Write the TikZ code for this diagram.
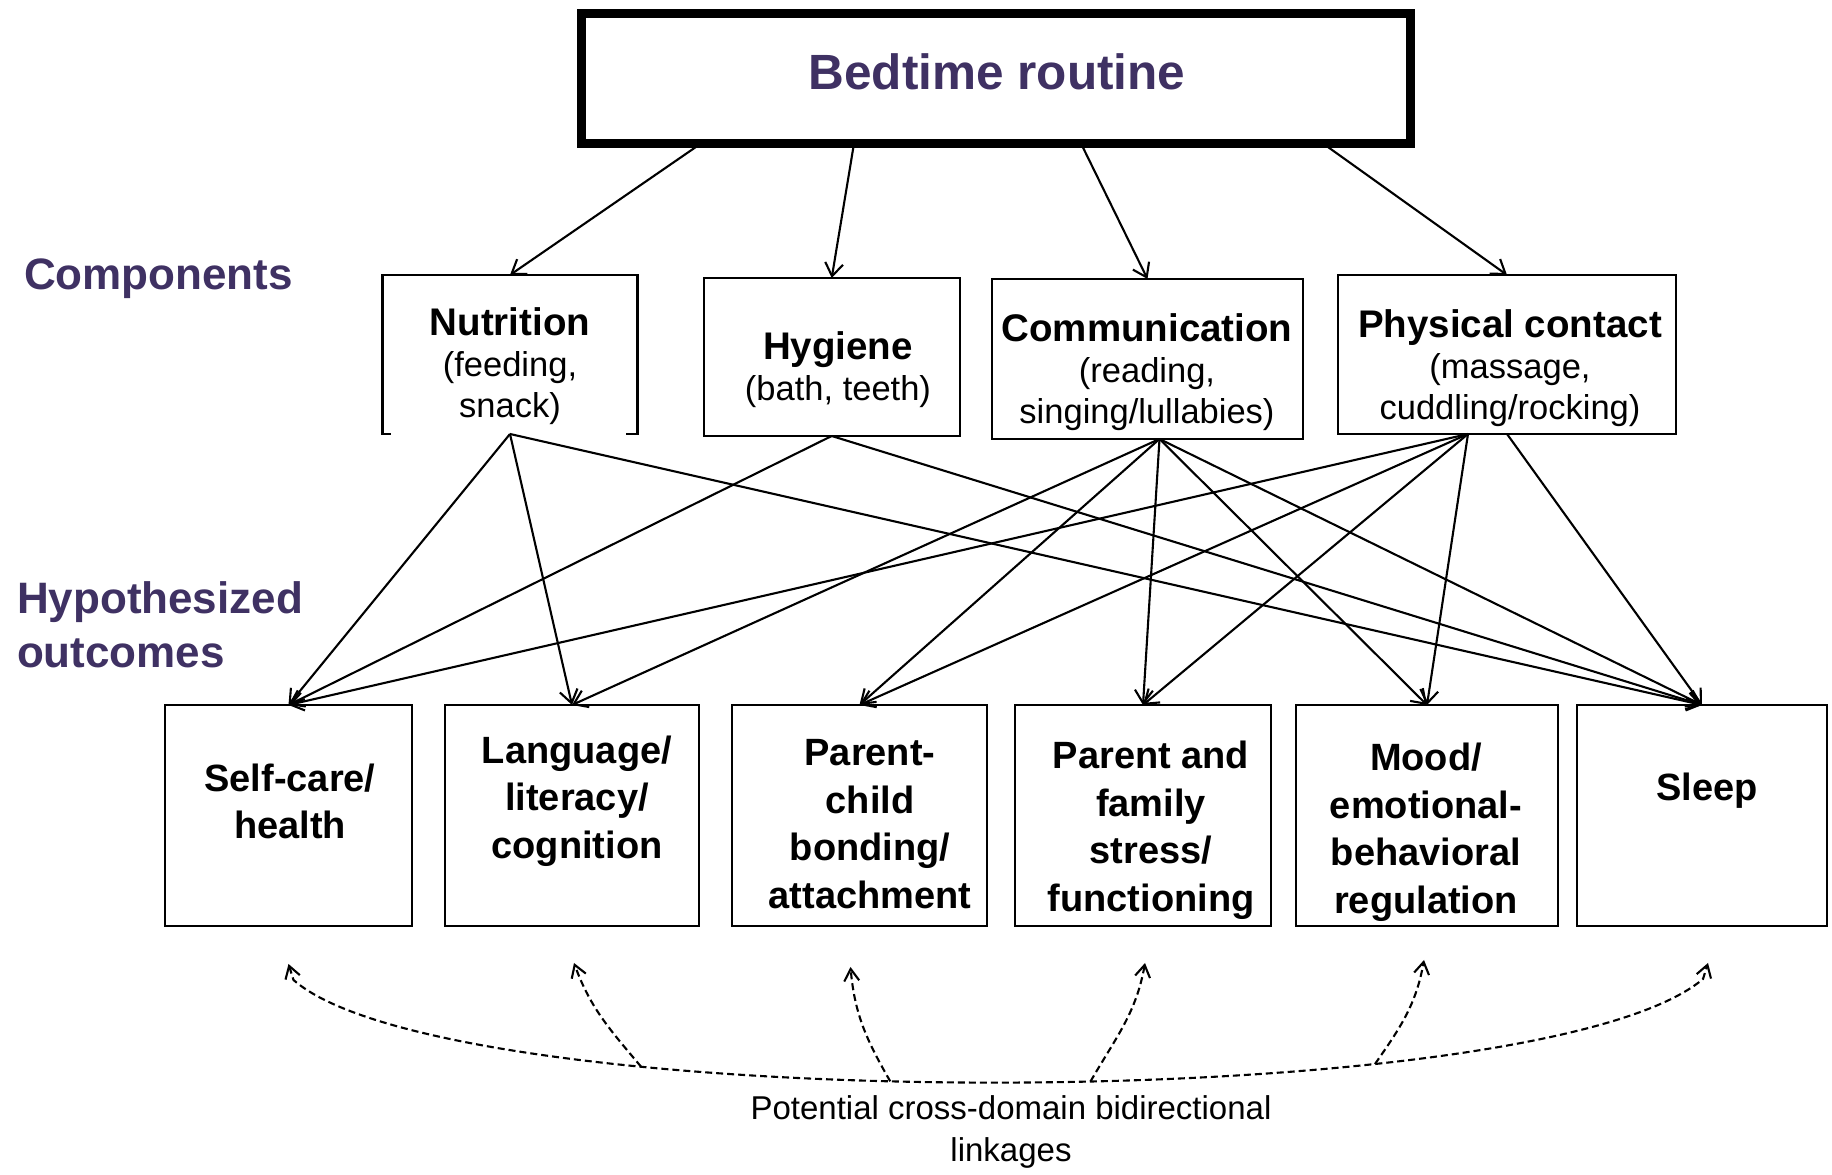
\documentclass[tikz,border=0pt]{standalone}
\usepackage{fontspec}
\setmainfont{Liberation Sans}
\usetikzlibrary{arrows.meta}
\definecolor{hdr}{RGB}{63,49,99}
\newcommand{\comptitle}{\fontsize{38.5}{41}\selectfont\bfseries}
\begin{document}
\begin{tikzpicture}[x=1pt,y=1pt,
  box/.style={draw, line width=2.4pt, inner sep=0pt, outer sep=0pt},
  ctext/.style={inner sep=0pt, outer sep=0pt, align=center, anchor=north, font=\fontsize{34.5}{41}\selectfont},
  otext/.style={inner sep=0pt, outer sep=0pt, align=center, anchor=north, font=\fontsize{38}{47.5}\selectfont\bfseries},
  hdrtext/.style={inner sep=0pt, outer sep=0pt, text=hdr, font=\fontsize{44}{54}\selectfont\bfseries},
  arr/.style={line width=2.1pt, -{Straight Barb[length=13pt,width=18pt]}},
  link/.style={line width=2.1pt, dash pattern=on 7pt off 4pt},
  linktip/.style={-{Straight Barb[length=12pt,width=15pt]}}]
\useasboundingbox (0,0) rectangle (1832,1175);
\fill[white] (0,0) rectangle (1832,1175);

% top box
\node[box, line width=9pt, minimum width=829pt, minimum height=130pt] (top) at (996,1096.5) {};
\node[inner sep=0pt, anchor=base, text=hdr, font=\fontsize{49.5}{56}\selectfont\bfseries] (toptxt) at (997,1085) {Bedtime routine};

% side labels
\node[hdrtext, anchor=base west] (complab) at (24,885) {Components};
\node[hdrtext, anchor=north west, align=left] (outlab) at (17,599.5) {\strut Hypothesized\\outcomes};

% components
\node[box, draw=none, minimum width=255pt, minimum height=159pt] (nut) at (510,820.5) {};
\draw[line width=2.4pt] ([xshift=8pt]nut.south west) -- (nut.south west) -- (nut.north west)
  -- (nut.north east) -- (nut.south east) -- ([xshift=-12pt]nut.south east);
\node[box, minimum width=256pt, minimum height=158pt] (hyg) at (831.7,818) {};
\node[box, minimum width=311pt, minimum height=160pt] (com) at (1147.5,816) {};
\node[box, minimum width=338pt, minimum height=159pt] (phy) at (1507,820.5) {};

\node[ctext] (nutT) at (510,868) {\strut{\comptitle Nutrition}\\(feeding,\\snack)};
\node[ctext] (hygT) at (838,844) {\strut{\comptitle Hygiene}\\(bath, teeth)};
\node[ctext] (comT) at (1147,862) {\strut{\comptitle Communication}\\(reading,\\singing/lullabies)};
\node[ctext] (phyT) at (1510,866.5) {\strut{\comptitle Physical contact}\\(massage,\\cuddling/rocking)};

% outcomes
\node[box, minimum width=247pt, minimum height=221pt] (sc) at (288.5,359.5) {};
\node[box, minimum width=254pt, minimum height=221pt] (lang) at (572,359.5) {};
\node[box, minimum width=255pt, minimum height=221pt] (pc) at (859.5,359.5) {};
\node[box, minimum width=256pt, minimum height=221pt] (pf) at (1143,359.5) {};
\node[box, minimum width=262pt, minimum height=221pt] (mood) at (1427,359.5) {};
\node[box, minimum width=250pt, minimum height=221pt] (sleep) at (1702,359.5) {};

\node[otext] (scT) at (290,417) {\strut Self-care/\\health};
\node[otext] (langT) at (577,445) {\strut Language/\\literacy/\\cognition};
\node[otext] (pcT) at (870,442.5) {\strut Parent-\\child\\bonding/\\attachment};
\node[otext] (pfT) at (1151,439.5) {\strut Parent and\\family\\stress/\\functioning};
\node[otext] (moodT) at (1426,437.5) {\strut Mood/\\emotional-\\behavioral\\regulation};
\node[otext] (sleepT) at (1707,408) {\strut Sleep};

% caption
\node[inner sep=0pt, anchor=north, align=center, font=\fontsize{33}{42}\selectfont] (cap) at (1011,85)
  {\strut Potential cross-domain bidirectional\\linkages};

% top arrows
\draw[arr] ([xshift=-295pt]top.south) -- (nut.north);
\draw[arr] ([xshift=-142pt]top.south) -- (hyg.north);
\draw[arr] ([xshift=85pt]top.south) -- (com.north);
\draw[arr] ([xshift=327pt]top.south) -- (phy.north);

% component -> outcome arrows
\draw[arr] (nut.south) -- (sc.north);
\draw[arr] (nut.south) -- (lang.north);
\draw[arr] (nut.south) -- (sleep.north);
\draw[arr] (hyg.south) -- (sc.north);
\draw[arr] (hyg.south) -- (sleep.north);
\draw[arr] ([xshift=12pt]com.south) -- (lang.north);
\draw[arr] ([xshift=12pt]com.south) -- (pc.north);
\draw[arr] ([xshift=12pt]com.south) -- (pf.north);
\draw[arr] ([xshift=12pt]com.south) -- (mood.north);
\draw[arr] ([xshift=12pt]com.south) -- (sleep.north);
\draw[arr] ([xshift=-39pt]phy.south) -- (sc.north);
\draw[arr] ([xshift=-39pt]phy.south) -- (pc.north);
\draw[arr] ([xshift=-39pt]phy.south) -- (pf.north);
\draw[arr] ([xshift=-39pt]phy.south) -- (mood.north);
\draw[arr] (phy.south) -- (sleep.north);

% cross-domain linkages
\coordinate (d1) at ([yshift=-38pt]sc.south);
\coordinate (d2) at ([yshift=-37pt,xshift=2pt]lang.south);
\coordinate (d3) at ([yshift=-41pt,xshift=-9pt]pc.south);
\coordinate (d4) at ([yshift=-37pt,xshift=2pt]pf.south);
\coordinate (d5) at ([yshift=-34pt,xshift=-3pt]mood.south);
\coordinate (d6) at ([yshift=-37pt,xshift=6pt]sleep.south);

\draw[link, {Straight Barb[length=12pt,width=15pt]}-{Straight Barb[length=12pt,width=15pt]}]
  (d1) -- ++(5,-16) .. controls (450,58) and (1540,58) .. ([shift={(-5,-16)}]d6)
  coordinate[pos=0.303] (j2) coordinate[pos=0.4435] (j3)
  coordinate[pos=0.5506] (j4) coordinate[pos=0.7114] (j5) -- (d6);
\draw[link, linktip] (j2) to[out=130, in=-70] (d2);
\draw[link, linktip] (j3) to[out=120, in=-85] (d3);
\draw[link, linktip] (j4) to[out=60, in=-100] (d4);
\draw[link, linktip] (j5) to[out=55, in=-100] (d5);
\end{tikzpicture}
\end{document}
